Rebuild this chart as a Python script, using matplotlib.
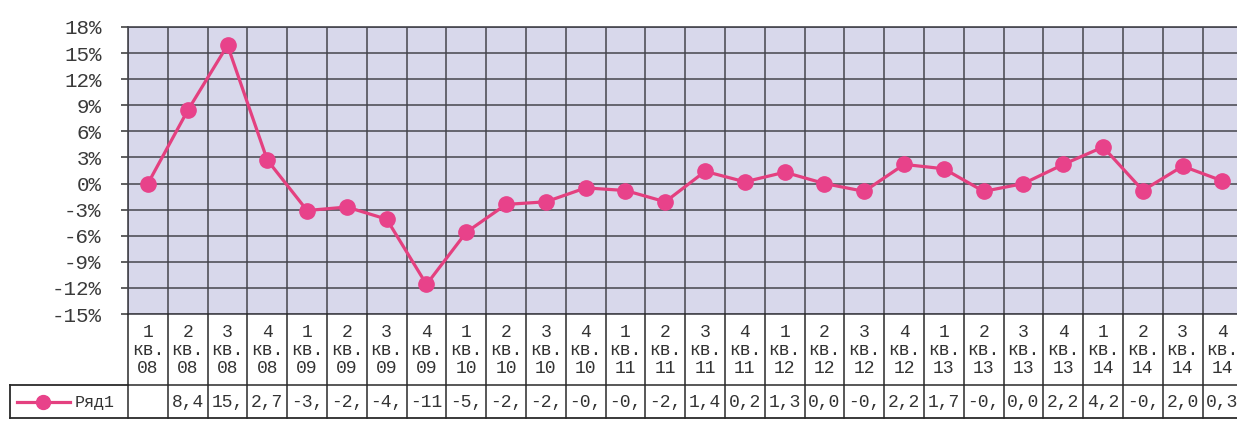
import numpy as np
import matplotlib
matplotlib.use("Agg")
import matplotlib.pyplot as plt

# quarterly change, %
quarters = ["1", "2", "3", "4"]
years = ["08", "09", "10", "11", "12", "13", "14"]
values = [None, 8.4, 15.9, 2.7, -3.1, -2.7, -4.1, -11.6, -5.6, -2.4, -2.1, -0.5,
          -0.8, -2.1, 1.4, 0.2, 1.3, 0.0, -0.9, 2.2, 1.7, -0.9, 0.0, 2.2,
          4.2, -0.8, 2.0, 0.3]
series_name = "Ряд1"
yticks = [-15, -12, -9, -6, -3, 0, 3, 6, 9, 12, 15, 18]

labels = [f"{q}\nкв.\n{y}" for y in years for q in quarters]
# empty cell is plotted as zero, shown blank in the table
plotted = [0.0 if v is None else v for v in values]
cell_text = ["" if v is None else f"{v:.1f}".replace(".", ",")[:3] for v in values]

plt.rcParams["font.family"] = ["Liberation Mono", "DejaVu Sans Mono"]

W, H = 1237, 434
fig = plt.figure(figsize=(W / 100, H / 100), dpi=100)
fig.patch.set_facecolor("white")

col_w = 39.8
left_px, top_px, bottom_px = 128, 27, 314
n = len(values)
width_px = n * col_w

ax = fig.add_axes([left_px / W, (H - bottom_px) / H, width_px / W, (bottom_px - top_px) / H])
ax.set_facecolor("#d8d8eb")
x = np.arange(n)
ax.set_xlim(-0.5, n - 0.5)
ax.set_ylim(-15, 18)
ax.set_yticks(yticks)
ax.set_yticklabels([f"{t}%" for t in yticks], fontsize=15, color="#3a3a3a")
ax.set_xticks(np.arange(n + 1) - 0.5)
ax.set_xticklabels([])
ax.tick_params(axis="x", length=0)
ax.tick_params(axis="y", length=5, width=1.2, color="#444444", pad=14)
ax.grid(True, color="#45454d", linewidth=1.1)
ax.set_axisbelow(True)
for s in ax.spines.values():
    s.set_color("#45454d")
    s.set_linewidth(1.2)

ax.plot(x, plotted, color="#e4407f", linewidth=2.3, marker="o",
        markersize=11, markerfacecolor="#e8428a", markeredgecolor="#e8428a",
        zorder=3, clip_on=False)

# data table under the plot
tab_bottom = 418
ax_t = fig.add_axes([left_px / W, (H - tab_bottom) / H, width_px / W, (tab_bottom - bottom_px) / H])
ax_t.set_xlim(-0.5, n - 0.5)
ax_t.set_ylim(tab_bottom - bottom_px, 0)
ax_t.axis("off")
row1 = 71
row2 = tab_bottom - bottom_px
leg_left = -0.5 - (left_px - 10) / col_w

lc = "#2a2a2a"
for i in range(n + 1):
    ax_t.plot([i - 0.5, i - 0.5], [0, row2], color=lc, lw=1.1, clip_on=False)
ax_t.plot([-0.5, n - 0.5], [row1, row1], color=lc, lw=1.1, clip_on=False)
ax_t.plot([leg_left, n - 0.5], [row2, row2], color=lc, lw=1.3, clip_on=False)
ax_t.plot([leg_left, -0.5], [row1, row1], color=lc, lw=1.3, clip_on=False)
ax_t.plot([leg_left, leg_left], [row1, row2], color=lc, lw=1.3, clip_on=False)

for i, lab in enumerate(labels):
    ax_t.text(i, row1 / 2 + 1, lab, ha="center", va="center", fontsize=13,
              linespacing=1.05, color="#333333")
for i, t in enumerate(cell_text):
    ax_t.text(i, (row1 + row2) / 2 + 1, t, ha="center", va="center",
              fontsize=13, color="#333333")

# legend key inside the table
def px2x(px):
    return -0.5 + (px - left_px) / col_w

ym = (row1 + row2) / 2
ax_t.plot([px2x(17), px2x(70)], [ym, ym], color="#e4407f", lw=2.3, clip_on=False)
ax_t.plot([px2x(43)], [ym], "o", color="#e8428a", markersize=10, clip_on=False)
ax_t.text(px2x(75), ym + 1, series_name, ha="left", va="center", fontsize=12,
          color="#333333")

fig.savefig("out.png", dpi=100)
